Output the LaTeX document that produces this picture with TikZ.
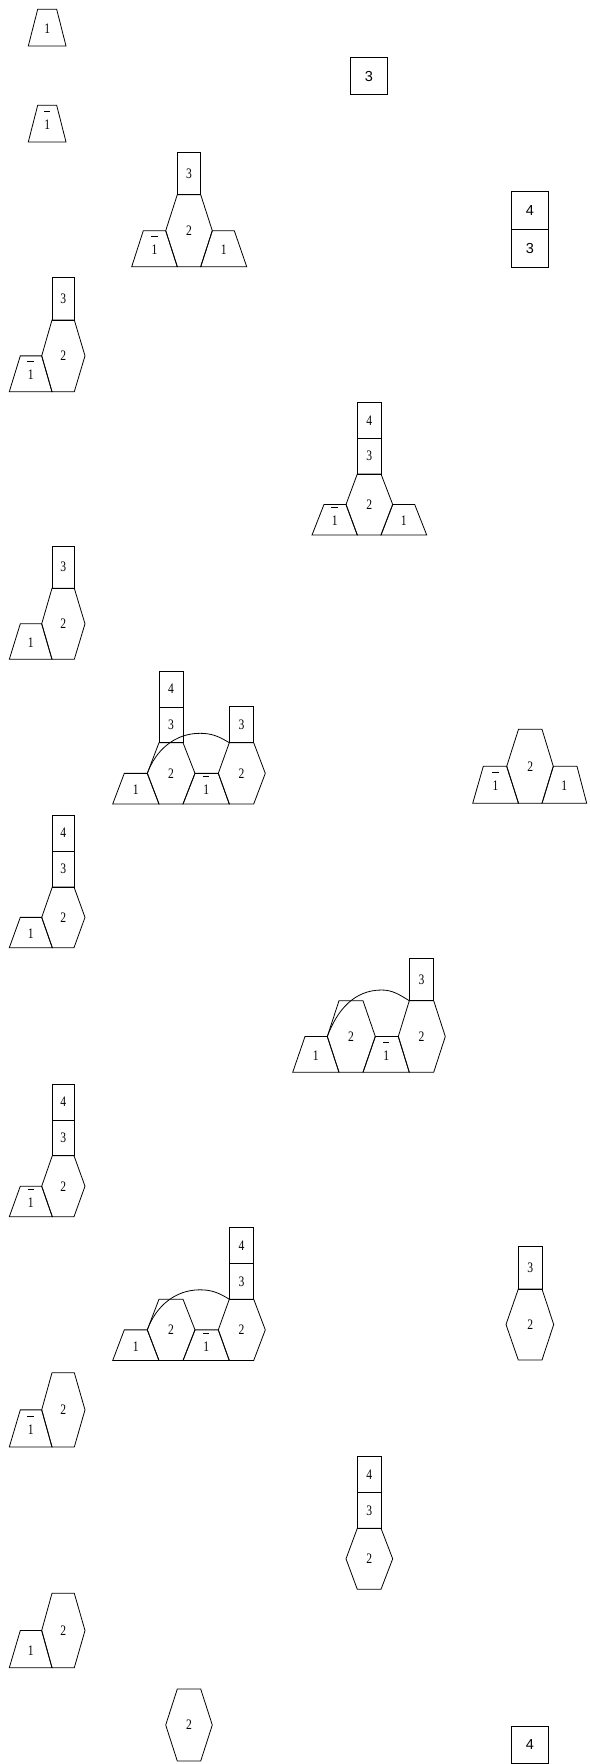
\documentclass[tikz,border=0pt]{standalone}
\usepackage{fontspec}
\newfontfamily\lblfont[FakeStretch=0.8]{Liberation Serif}
\newfontfamily\lblsans{Liberation Sans}
\newcommand\obar{\vbox{\hbox to 7pt{\hss\vrule height 0.9pt width 6.5pt\hss}\kern3.2pt\hbox to 7pt{\hss 1\hss}}}
\tikzset{
  shp/.style={draw=black, line width=0.8pt, line join=miter},
  arcline/.style={draw=black, line width=0.8pt},
  lab/.style={font=\lblfont\fontsize{14.5}{14.5}\selectfont, anchor=base, inner sep=0pt},
  labs/.style={font=\lblsans\fontsize{14.5}{14.5}\selectfont, anchor=base, inner sep=0pt},
}
% name, xl, xr, xL, xR, yt, yb
\newcommand\mkhex[7]{%
  \draw[shp] (#2,#6) -- (#3,#6) -- (#5,{(#6+#7)/2}) -- (#3,#7) -- (#2,#7) -- (#4,{(#6+#7)/2}) -- cycle;
  \node[lab] (#1) at ({(#2+#3)/2},{(#6+#7)/2+4.8}) {2};}
% name, label, txl, txr, bxl, bxr, yt, yb
\newcommand\mktrap[8]{%
  \draw[shp] (#3,#7) -- (#4,#7) -- (#6,#8) -- (#5,#8) -- cycle;
  \node[lab] (#1) at ({(#5+#6)/2},{(#7+#8)/2+6}) {#2};}
% name, label, x1, y1, x2, y2
\newcommand\mkrect[6]{%
  \draw[shp] (#3,#4) rectangle (#5,#6);
  \node[lab] (#1) at ({(#3+#5)/2},{(#4+#6)/2+4.8}) {#2};}
\newcommand\mksrect[6]{%
  \draw[shp] (#3,#4) rectangle (#5,#6);
  \node[labs] (#1) at ({(#3+#5)/2},{(#4+#6)/2+5.2}) {#2};}
\begin{document}
\begin{tikzpicture}[x=1pt,y=-1pt]
\useasboundingbox (0,0) rectangle (589,1764);
% single trapezoids
\mktrap{t1}{1}{37.7}{56.7}{28.3}{66}{9.3}{46}
\mktrap{t2}{\obar}{37.7}{56.7}{28.3}{66}{105.3}{142}
% sans boxes
\mksrect{s1}{3}{350.3}{57.3}{387.7}{94.7}
\mksrect{s2a}{4}{511.3}{191.7}{548.3}{229.7}
\mksrect{s2b}{3}{511.3}{229.7}{548.3}{267}
% group A
\mkrect{Ar}{3}{177.3}{152.7}{200.7}{194.7}
\mkhex{Ah}{177.3}{200.7}{165.7}{212.3}{194.7}{266.7}
\mktrap{Atl}{\obar}{143.3}{165.7}{131.7}{177.3}{230.7}{266.7}
\mktrap{Atr}{1}{212.3}{234.3}{200.7}{246.7}{230.7}{266.7}
% group B
\mkrect{Br}{3}{52}{277.3}{74.3}{320}
\mkhex{Bh}{52}{74.3}{41.7}{85}{320}{391.7}
\mktrap{Bt}{\obar}{20.3}{41.7}{9.3}{52}{355.85}{391.7}
% group C
\mkrect{Cr}{3}{52}{546}{74.3}{588.3}
\mkhex{Ch}{52}{74.3}{41.7}{85}{588.3}{659.3}
\mktrap{Ct}{1}{20.3}{41.7}{9.3}{52}{623.8}{659.3}
% group D
\mkrect{Dr4}{4}{357.3}{402.3}{381}{438.3}
\mkrect{Dr3}{3}{357.3}{438.3}{381}{474}
\mkhex{Dh}{357.3}{381}{346}{392.7}{474}{535}
\mktrap{Dtl}{\obar}{324}{346}{312}{357.3}{504.5}{535}
\mktrap{Dtr}{1}{392.7}{414.7}{381}{426.7}{504.5}{535}
% group E
\mkrect{Er4}{4}{159}{671}{183}{707}
\mkrect{Er3}{3}{159}{707}{183}{742.7}
\mkhex{Eh1}{159}{183}{147.3}{195}{742.7}{804}
\mktrap{Et1}{1}{124.3}{147.3}{112.7}{159}{773.35}{804}
\mktrap{Et2}{\obar}{195}{218.3}{183}{229.3}{773.35}{804}
\mkhex{Eh2}{229.3}{253.7}{218.3}{265.3}{742.7}{804}
\mkrect{Er3b}{3}{229.3}{706.7}{253.7}{742.7}
\coordinate (Ea) at (147.3,773.35);
\coordinate (Ep) at (200,733.3);
\coordinate (Eb) at (229.3,742.7);
\draw[arcline] (Ea) .. controls (155.9,749.8) and (175,733.3) .. (Ep) .. controls (212,733.3) and (219,736.5) .. (Eb);
% group F
\mkhex{Fh}{518.5}{542}{506.7}{553.3}{729.3}{803.3}
\mktrap{Ftl}{\obar}{483.3}{506.7}{472.7}{518.5}{766.3}{803.3}
\mktrap{Ftr}{1}{553.3}{577}{542}{586.7}{766.3}{803.3}
% group G
\mkrect{Gr4}{4}{52.3}{815}{74}{851}
\mkrect{Gr3}{3}{52.3}{851}{74}{887}
\mkhex{Gh}{52.3}{74}{41.7}{85}{887}{947.7}
\mktrap{Gt}{1}{20.3}{41.7}{9.3}{52.3}{917.35}{947.7}
% group H
\mktrap{Ht1}{1}{305}{327.3}{292.7}{339}{1036.5}{1072.3}
\mkhex{Hh1}{339}{363}{327.3}{375.3}{1000.7}{1072.3}
\mktrap{Ht2}{\obar}{375.3}{398.3}{363}{409.3}{1036.5}{1072.3}
\mkhex{Hh2}{409.3}{433.7}{398.3}{445.3}{1000.7}{1072.3}
\mkrect{Hr3}{3}{409.3}{958.7}{433.7}{1000.7}
\coordinate (Ha) at (327.3,1036.5);
\coordinate (Hp) at (381.7,990);
\coordinate (Hb) at (409.3,1000.7);
\draw[arcline] (Ha) .. controls (336.9,1010.7) and (353.7,990) .. (Hp) .. controls (392.7,990) and (399.9,995) .. (Hb);
% group I
\mkrect{Ir4}{4}{52.3}{1084}{74}{1120}
\mkrect{Ir3}{3}{52.3}{1120}{74}{1155.7}
\mkhex{Ih}{52.3}{74}{41.7}{85}{1155.7}{1216.7}
\mktrap{It}{\obar}{20.3}{41.7}{9.3}{52.3}{1186.2}{1216.7}
% group J
\mktrap{Jt1}{1}{124.3}{147.3}{112.7}{159}{1329.85}{1360.5}
\mkhex{Jh1}{159}{183}{147.3}{195}{1299.2}{1360.5}
\mktrap{Jt2}{\obar}{195}{218.3}{183}{229.3}{1329.85}{1360.5}
\mkhex{Jh2}{229.3}{253.7}{218.3}{265.3}{1299.2}{1360.5}
\mkrect{Jr3}{3}{229.3}{1263.2}{253.7}{1299.2}
\mkrect{Jr4}{4}{229.3}{1227.2}{253.7}{1263.2}
\coordinate (Ja) at (147.3,1329.85);
\coordinate (Jp) at (200,1289.8);
\coordinate (Jb) at (229.3,1299.2);
\draw[arcline] (Ja) .. controls (155.9,1306.3) and (175,1289.8) .. (Jp) .. controls (212,1289.8) and (219,1293) .. (Jb);
% group K
\mkrect{Kr3}{3}{518.3}{1246.7}{542}{1289}
\mkhex{Kh}{518.3}{542}{506}{553.7}{1289}{1360}
% group L
\mkhex{Lh}{52}{74.3}{41.7}{85}{1372.7}{1447}
\mktrap{Lt}{\obar}{20.3}{41.7}{9.3}{52}{1409.85}{1447}
% group N
\mkrect{Nr4}{4}{357.3}{1456.3}{381}{1492.3}
\mkrect{Nr3}{3}{357.3}{1492.3}{381}{1528.3}
\mkhex{Nh}{357.3}{381}{346}{392.7}{1528.3}{1589.3}
% group M
\mkhex{Mh}{52}{74.3}{41.7}{85}{1593.3}{1667.7}
\mktrap{Mt}{1}{20.3}{41.7}{9.3}{52}{1630.5}{1667.7}
% group O
\mkhex{Oh}{177.3}{200.7}{165.7}{212.3}{1689}{1761}
% group P
\mksrect{Pr}{4}{511.3}{1726}{548.3}{1763}
\end{tikzpicture}
\end{document}
